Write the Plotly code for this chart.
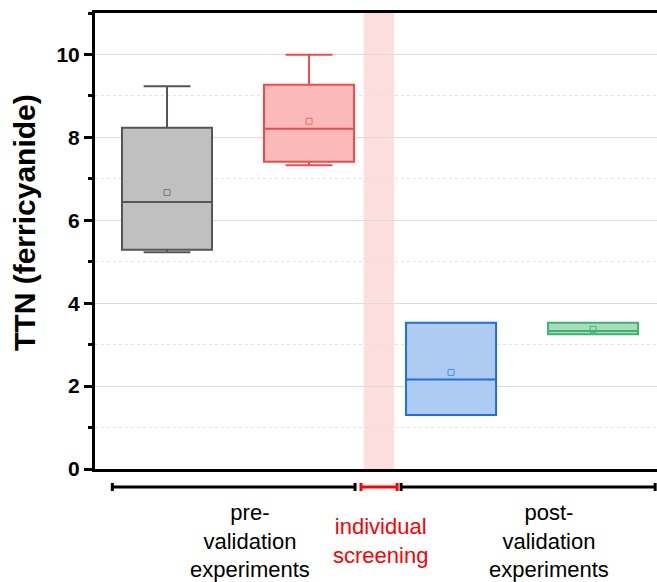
import plotly.graph_objects as go

# Box statistics per experiment group (TTN with ferricyanide)
positions = [1, 2, 3, 4]
lower_whisker = [5.23, 7.33, 1.30, 3.25]
q1_values = [5.29, 7.41, 1.30, 3.25]
medians = [6.44, 8.21, 2.16, 3.33]
q3_values = [8.23, 9.27, 3.53, 3.53]
upper_whisker = [9.23, 9.99, 3.53, 3.53]
means = [6.67, 8.39, 2.33, 3.37]

fill_colors = ["#c0c0c0", "#fbb9b9", "#aecbf2", "#aadbbb"]
line_colors = ["#555555", "#f24a4a", "#1c6fdc", "#3cb371"]
mean_colors = ["#777777", "#f06a6a", "#4a8fe6", "#48b078"]

# Group brackets under the axis
group_spans = [(0.615, 2.324), (2.366, 2.620), (2.648, 4.437)]
group_labels = ["pre-<br>validation<br>experiments",
                "individual<br>screening",
                "post-<br>validation<br>experiments"]
group_colors = ["black", "#ff0000", "black"]
label_x = [1.585, 2.5, 3.69]

screening_band = (2.385, 2.599)

y_ticks = [0, 2, 4, 6, 8, 10]

FONT = "Arial, Liberation Sans, sans-serif"

fig = go.Figure()

for i, x in enumerate(positions):
    fig.add_trace(go.Box(
        x=[x],
        q1=[q1_values[i]], median=[medians[i]], q3=[q3_values[i]],
        lowerfence=[lower_whisker[i]], upperfence=[upper_whisker[i]],
        width=0.634, whiskerwidth=0.52,
        fillcolor=fill_colors[i],
        line=dict(color=line_colors[i], width=2),
        boxpoints=False, hoverinfo="skip", showlegend=False,
    ))
    fig.add_trace(go.Scatter(
        x=[x], y=[means[i]], mode="markers",
        marker=dict(symbol="square-open", size=6,
                    color=mean_colors[i], line=dict(width=1, color=mean_colors[i])),
        showlegend=False, hoverinfo="skip",
    ))

# Shaded individual screening band
fig.add_shape(type="rect", xref="x", yref="paper",
              x0=screening_band[0], x1=screening_band[1], y0=0, y1=1,
              fillcolor="#fddede", line=dict(width=0), layer="below")

# Brackets and labels below the plot
bracket_y = -0.0395
cap = 0.0088
for (x0, x1), label, color, lx in zip(group_spans, group_labels, group_colors, label_x):
    fig.add_shape(type="line", xref="x", yref="paper", x0=x0, x1=x1,
                  y0=bracket_y, y1=bracket_y, line=dict(color=color, width=3))
    for xe in (x0, x1):
        fig.add_shape(type="line", xref="x", yref="paper", x0=xe, x1=xe,
                      y0=bracket_y - cap, y1=bracket_y + cap,
                      line=dict(color=color, width=3))
    fig.add_annotation(x=lx, y=-0.158, xref="x", yref="paper", text=label,
                       showarrow=False, xanchor="center", yanchor="middle",
                       align="center", font=dict(family=FONT, size=22, color=color))

# Y axis title
fig.add_annotation(x=-0.1246, y=0.5417, xref="paper", yref="paper",
                   text="TTN (ferricyanide)", textangle=-90,
                   showarrow=False, xanchor="center", yanchor="middle",
                   font=dict(family=FONT, size=30, color="black", weight="bold"))

fig.update_layout(
    width=657, height=582,
    margin=dict(l=95, r=0, t=13, b=113),
    paper_bgcolor="white", plot_bgcolor="white",
    boxmode="overlay",
    showlegend=False,
    font=dict(family=FONT, color="black"),
    xaxis=dict(range=[0.493, 4.45], showticklabels=False, ticks="",
               showgrid=False, zeroline=False,
               showline=True, linecolor="black", linewidth=3, mirror=True),
    yaxis=dict(range=[0, 11], tickmode="array", tickvals=y_ticks,
               ticktext=[str(v) for v in y_ticks],
               ticks="outside", ticklen=8, tickwidth=2.5, tickcolor="black",
               tickfont=dict(family=FONT, size=21, color="black", weight="bold"),
               showgrid=True, gridcolor="#dcdcdc", gridwidth=1,
               zeroline=False,
               showline=True, linecolor="black", linewidth=3,
               minor=dict(dtick=1, ticks="outside", ticklen=4, tickwidth=2.5,
                          tickcolor="black", showgrid=True,
                          gridcolor="#e2e2e2", griddash="dot", gridwidth=1)),
)

fig.write_html("out.html")
